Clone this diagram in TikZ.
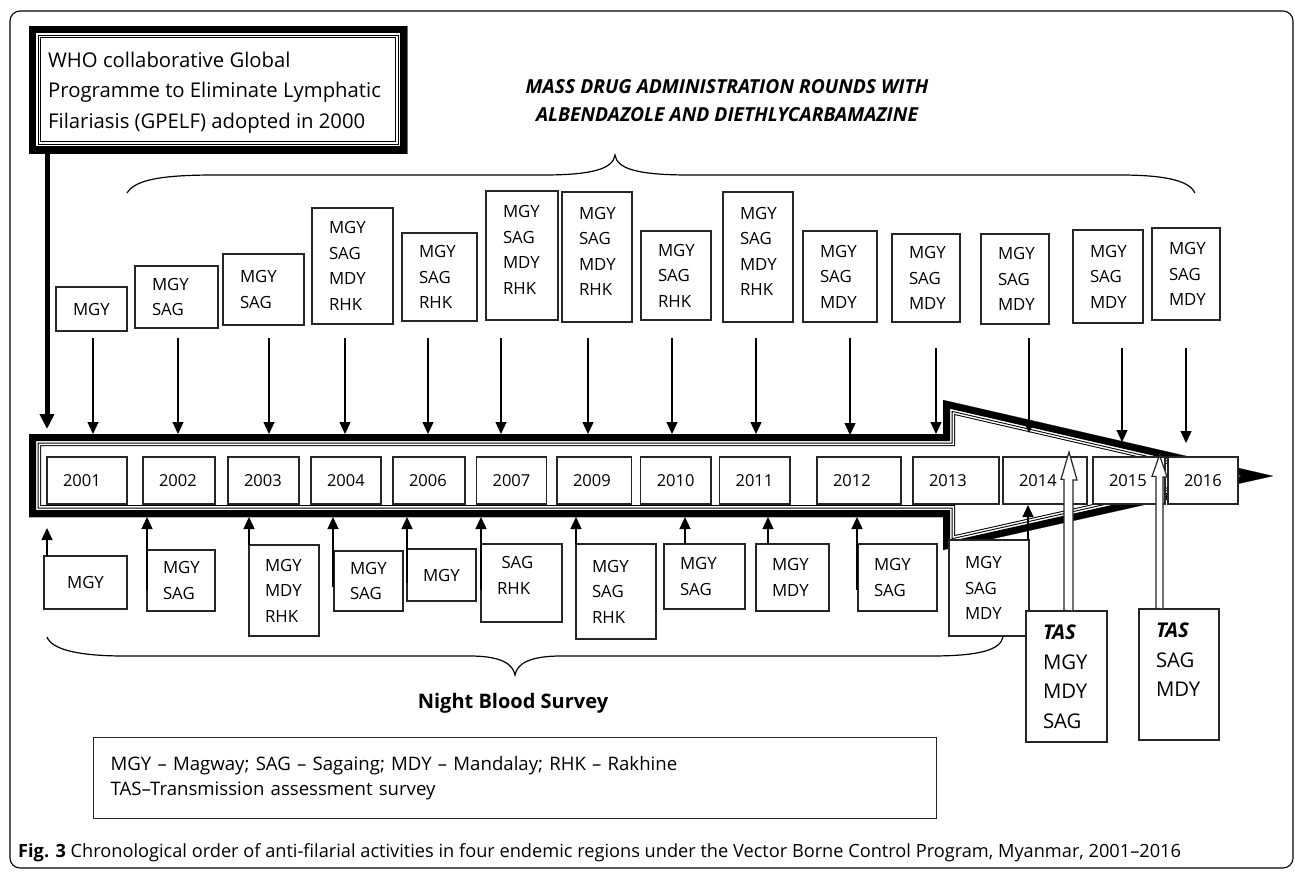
\documentclass[tikz,border=0pt]{standalone}
\usepackage{fontspec}
\setmainfont{Open Sans}
\usetikzlibrary{arrows.meta,calc}
\newcommand\triborder[1]{%
  \begin{scope}
    \clip #1;
    \draw[line width=24pt] #1;
    \draw[white,line width=22pt] #1;
    \draw[line width=19pt] #1;
    \draw[white,line width=17pt] #1;
    \draw[line width=14pt] #1;
  \end{scope}}
\begin{document}
\begin{tikzpicture}[x=1pt,y=-1pt,line join=miter,
  bx/.style={draw=black!85, line width=1.3pt, fill=white, align=left, inner xsep=17pt, inner ysep=0pt,
             font=\fontsize{16.8}{25.5}\selectfont, text width=#1},
  nb/.style={bx=#1, inner xsep=16pt},
  yb/.style={draw=black!85, line width=1.3pt, fill=white, align=left, inner xsep=16pt, inner ysep=0pt,
             font=\fontsize{16.5}{19}\selectfont, text width=#1, minimum height=47pt},
  tas/.style={draw=black!85, line width=1.3pt, fill=white, align=left, inner xsep=17pt, inner ysep=0pt,
             font=\fontsize{20.3}{29.5}\selectfont, text width=#1, minimum height=131pt},
  arr/.style={line width=1.3pt, -{Triangle[length=12pt,width=11pt]}},
  hollow/.style={draw=black!85, line width=1.2pt, fill=white},
  brace/.style={line width=1.2pt},
]
\useasboundingbox (0,0) rectangle (1295,873);
\fill[white] (0,0) rectangle (1295,873);
% outer frame
\draw[line width=1.1pt, rounded corners=10pt] (10,11) rectangle (1293,868);

% WHO box
\node[minimum width=378pt, minimum height=127pt, inner sep=0pt, anchor=north west] (who) at (29,26) {};
\triborder{(who.north west) rectangle (who.south east)}
\node[anchor=west, align=left, inner sep=0pt, font=\fontsize{20.3}{30.5}\selectfont] (whotext) at ($(who.west)+(19,3)$)
  {WHO collaborative Global\\Programme to Eliminate Lymphatic\\Filariasis (GPELF) adopted in 2000};
\coordinate (whoend) at (47,429);
\draw[line width=5pt, -{Triangle[length=15pt,width=14pt]}] (whoend |- who.south) -- (whoend);

% title
\node[align=center, font=\bfseries\itshape\fontsize{19.3}{28}\selectfont] (title) at (727,101)
  {MASS DRUG ADMINISTRATION ROUNDS WITH\\ALBENDAZOLE AND DIETHLYCARBAMAZINE};

% top brace
\draw[brace] (127,193) .. controls (135,180) and (160,175) .. (215,175) -- (543,175)
  .. controls (592,175) and (613,169) .. (615,155) .. controls (617,169) and (638,175) .. (690,175)
  -- (1120,175) .. controls (1170,175) and (1190,182) .. (1195,193);

% top MDA boxes
\node[bx=37, minimum height=44pt]  (t01) at (91.5,309)   {MGY};
\node[bx=49, minimum height=62pt]  (t02) at (176.5,297)  {MGY\\SAG};
\node[bx=47, minimum height=71pt]  (t03) at (263.5,289.5){MGY\\SAG};
\node[bx=47, minimum height=116pt] (t04) at (352.5,266)  {MGY\\SAG\\MDY\\RHK};
\node[bx=41, minimum height=88pt]  (t06) at (439.5,277)  {MGY\\SAG\\RHK};
\node[bx=38, minimum height=129pt] (t07) at (522,255.5)  {MGY\\SAG\\MDY\\RHK\\[-14pt]\mbox{}};
\node[bx=36, minimum height=130pt] (t09) at (597,257)    {MGY\\SAG\\MDY\\RHK\\[-14pt]\mbox{}};
\node[bx=36, minimum height=89pt]  (t10) at (676,275.5)  {MGY\\SAG\\RHK};
\node[bx=36, minimum height=130pt] (t11) at (758,257)    {MGY\\SAG\\MDY\\RHK\\[-14pt]\mbox{}};
\node[bx=40, minimum height=91pt]  (t12) at (840,276.5)  {MGY\\SAG\\MDY};
\node[bx=34, minimum height=88pt]  (t13) at (926,278)    {MGY\\SAG\\MDY};
\node[bx=34, minimum height=90pt]  (t14) at (1015,279)   {MGY\\SAG\\MDY};
\node[bx=36, minimum height=93pt]  (t15) at (1108,276.5) {MGY\\SAG\\MDY};
\node[bx=34, minimum height=92pt]  (t16) at (1186,274)   {MGY\\SAG\\MDY};

% timeline arrow
\fill[white] (29,434) -- (943,434) -- (943,400) -- (1273,476) -- (943,550) -- (943,517) -- (29,517) -- cycle;
\triborder{(29,434) -- (943,434) -- (943,400) -- (1273,476) -- (943,550) -- (943,517) -- (29,517) -- cycle}

% year boxes
\node[yb=48]   (y01) at (87,480.5)    {2001};
\node[yb=40]   (y02) at (179,480.5)   {2002};
\node[yb=39]   (y03) at (263.5,480.5) {2003};
\node[yb=38]   (y04) at (346,480.5)   {2004};
\node[yb=40]   (y06) at (429,480.5)   {2006};
\node[yb=38]   (y07) at (511.6,480.5) {2007};
\node[yb=42.6] (y09) at (594.3,480.5) {2009};
\node[yb=38.3] (y10) at (675.9,480.5) {2010};
\node[yb=38.4] (y11) at (754.8,480.5) {2011};
\node[yb=52]   (y12) at (859,480.5)   {2012};
\node[yb=54]   (y13) at (956,480.5)   {2013};
\node[yb=52]   (y14) at (1045,480.5)  {2014};
\node[yb=40]   (y15) at (1129,480.5)  {2015};
\node[yb=38]   (y16) at (1203,480.5)  {2016};

% top arrows
\foreach \x/\s/\e [count=\i] in {93/338/434,178/338/434,269/338/434,345/338/434,428/338/434,
    501/338/434,588/338/434,672/338/434,756/338/434,850/338/435,936/348/434,1029/338/433,
    1122/348/442,1186/348/443}{
  \coordinate (ta\i s) at (\x,\s);
  \coordinate (ta\i e) at (\x,\e);
  \draw[arr] (ta\i s) -- (ta\i e);
}

% bottom brace
\draw[brace] (47,637) .. controls (52,650) and (80,656) .. (125,656) -- (470,656)
  .. controls (501,656) and (513,664) .. (515,675) .. controls (517,664) and (529,656) .. (561,656)
  -- (930,656) .. controls (980,656) and (1000,650) .. (1003,637);

% night blood survey boxes
\node[nb=51, align=center, minimum height=53pt] (b01) at (85.5,582.5) {MGY};
\node[nb=36, minimum height=61pt] (b02) at (181,580.5)   {MGY\\SAG};
\node[nb=38, minimum height=91pt] (b03) at (284,590.5)   {MGY\\MDY\\RHK};
\node[nb=37, minimum height=60pt] (b04) at (368.5,581)   {MGY\\SAG};
\node[nb=37, minimum height=52pt] (b06) at (441.5,575)   {MGY};
\node[nb=49, minimum height=78pt] (b07) at (521.5,583)   {\hspace*{4.5pt}SAG\\RHK\\[-10pt]\mbox{}};
\node[nb=48, minimum height=95pt] (b09) at (616,591.5)   {MGY\\SAG\\RHK};
\node[nb=49, minimum height=65pt] (b10) at (704.5,576.5) {MGY\\SAG};
\node[nb=41, minimum height=67pt] (b11) at (792.5,577.5) {MGY\\MDY};
\node[nb=47, minimum height=67pt] (b12) at (897.5,577.5) {MGY\\SAG};
\node[nb=48, minimum height=96pt] (b13) at (989,588)     {MGY\\SAG\\MDY};

% bottom arrows
\foreach \x/\s/\e [count=\i] in {47/556/528,147/590/517,249/545/517,333/587/517,407/583/517,
    481/590/517,576/544/517,685/544/517,768/544/517,857/590/517,1028/540/505}{
  \coordinate (ba\i s) at (\x,\s);
  \coordinate (ba\i e) at (\x,\e);
  \draw[arr] (ba\i s) -- (ba\i e);
}

\node[font=\bfseries\fontsize{20}{24}\selectfont] (nbs) at (513,703) {Night Blood Survey};

% TAS boxes and hollow arrows
\node[tas=47] (tas1) at (1066.5,676.5) {\textbf{\textit{TAS}}\\MGY\\MDY\\SAG};
\node[tas=46] (tas2) at (1179,674.5)   {\textbf{\textit{TAS}}\\SAG\\MDY\\\mbox{}};
\coordinate (tas1tip) at (1069,452);
\coordinate (tas2tip) at (1159.5,455);
\draw[hollow] ([xshift=-2.5pt]tas1.north) -- ++(0,-131) -- ++(-3,0) -- (tas1tip)
  -- ++(8,28) -- ++(-4,0) -- ++(0,131) -- cycle;
\draw[hollow] ([xshift=-23pt]tas2.north) -- ++(0,-132) -- ++(-4,0) -- (tas2tip)
  -- ++(7.5,22) -- ++(-4,0) -- ++(0,132) -- cycle;

% legend
\node[draw=black!85, line width=1.3pt, anchor=north west, align=left, text width=809pt, inner xsep=17pt,
      inner ysep=0pt, minimum height=81pt, font=\fontsize{18.6}{24.5}\selectfont] (legend) at (93,737)
  {MGY -- Magway; SAG -- Sagaing; MDY -- Mandalay; RHK -- Rakhine\\TAS--Transmission assessment survey};

% caption
\node[anchor=west, inner sep=0pt, font=\fontsize{18.2}{21}\selectfont] (caption) at (18,853)
  {\textbf{Fig. 3} Chronological order of anti-filarial activities in four endemic regions under the Vector Borne Control Program, Myanmar, 2001--2016};
\end{tikzpicture}
\end{document}
